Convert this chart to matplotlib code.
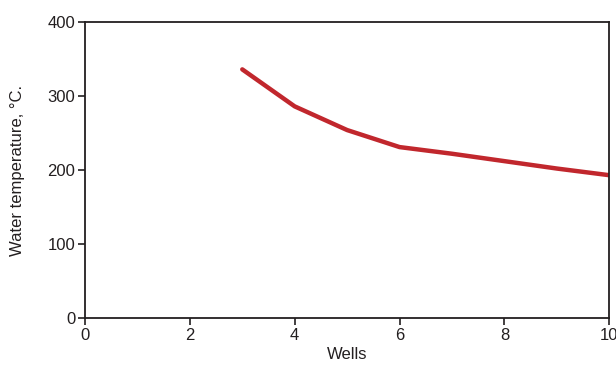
import matplotlib
matplotlib.use("Agg")
import matplotlib.pyplot as plt

# wells count vs water temperature
wells = [3, 4, 5, 6, 7, 8, 9, 10]
temperature = [336, 286, 254, 231, 222, 212, 202, 193]

x_ticks = [0, 2, 4, 6, 8, 10]
y_ticks = [0, 100, 200, 300, 400]

plt.rcParams["font.family"] = ["Liberation Sans", "DejaVu Sans"]

fig = plt.figure(figsize=(6.16, 3.70), dpi=100)
ax = fig.add_axes([0.138, 0.1405, 0.851, 0.80])

ax.plot(wells, temperature, color="#C1272D", linewidth=3.2, solid_capstyle="round")

ax.set_xlim(0, 10)
ax.set_ylim(0, 400)
ax.set_xticks(x_ticks)
ax.set_yticks(y_ticks)
ax.tick_params(labelsize=12, width=1.2, length=5, color="#231F20", labelcolor="#231F20", pad=2)
for side in ax.spines.values():
    side.set_linewidth(1.3)
    side.set_color("#231F20")

ax.set_xlabel("Wells", fontsize=12, color="#231F20", labelpad=3)
ax.set_ylabel("Water temperature, \u00b0C.", fontsize=12, color="#231F20", labelpad=16)

fig.savefig("out.png", dpi=100)
